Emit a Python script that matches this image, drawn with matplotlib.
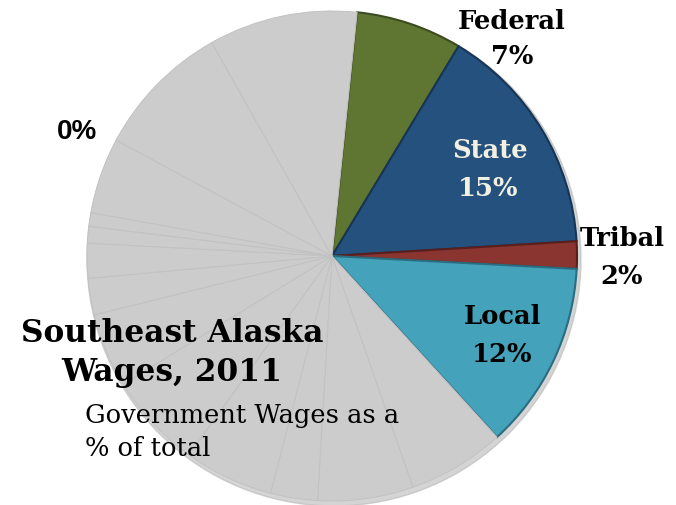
import matplotlib.pyplot as plt
from matplotlib.patches import Circle

# government sectors (percent of total wages)
gov_names = ["Federal", "State", "Tribal", "Local"]
gov_values = [7.0, 15.4, 1.8, 12.4]
gov_pcts = ["7%", "15%", "2%", "12%"]
gov_colors = ["#5f7632", "#25517e", "#8a3530", "#44a2bb"]
gov_edges = ["#3c4c1e", "#173555", "#5a1f1c", "#2b6d80"]

# the rest of the economy, drawn as plain gray wedges
other_values = [6.4, 6.3, 3.1, 5.9, 6.3, 4.9, 2.4, 2.3, 1.1, 0.9, 5.0, 9.0, 9.8]

W, H = 676, 506
cx, cy, r = 332, H - 257, 245

fig = plt.figure(figsize=(W / 100, H / 100), dpi=100)
ax = fig.add_axes([0, 0, 1, 1])

# soft shadow under the pie
ax.add_patch(Circle((cx + 2, cy - 3), r + 2, color="#b8b8b8", alpha=0.6, zorder=0))

values = gov_values + other_values
colors = gov_colors + ["#cccccc"] * len(other_values)
wedges, _ = ax.pie(values, colors=colors, startangle=84.1, counterclock=False,
                   center=(cx, cy), radius=r, frame=True)
for i, w in enumerate(wedges):
    w.set_zorder(1)
    if i < len(gov_values):
        w.set_edgecolor(gov_edges[i])
        w.set_linewidth(1.5)
    else:
        w.set_edgecolor("#c2c2c2")
        w.set_linewidth(0.7)
ax.set_xlim(0, W)
ax.set_ylim(0, H)
ax.set_aspect("equal")
ax.axis("off")

serif = "DejaVu Serif"
name_pos = [(512, 21), (490, 150), (622, 239), (502, 317)]
pct_pos = [(512, 56), (488, 189), (622, 277), (502, 354)]
lab_col = ["black", "#f2f0e0", "black", "black"]
for name, pct, (nx, ny), (px, py), c in zip(gov_names, gov_pcts, name_pos, pct_pos, lab_col):
    ax.text(nx, H - ny, name, ha="center", va="center", fontsize=18.5, fontweight="bold",
            family=serif, color=c, zorder=3)
    ax.text(px, H - py, pct, ha="center", va="center", fontsize=18.5, fontweight="bold",
            family=serif, color=c, zorder=3)

ax.text(77, H - 132, "0%", ha="center", va="center", fontsize=20, fontweight="bold",
        family="Liberation Sans", color="black", zorder=3)

ax.text(172, H - 333, "Southeast Alaska", ha="center", va="center",
        fontsize=22.5, fontweight="bold", family=serif, zorder=3)
ax.text(172, H - 373, "Wages, 2011", ha="center", va="center",
        fontsize=22.5, fontweight="bold", family=serif, zorder=3)
ax.text(85, H - 416, "Government Wages as a", ha="left", va="center",
        fontsize=18.5, family=serif, zorder=3)
ax.text(85, H - 449, "% of total", ha="left", va="center",
        fontsize=18.5, family=serif, zorder=3)

fig.savefig("out.png", dpi=100)
